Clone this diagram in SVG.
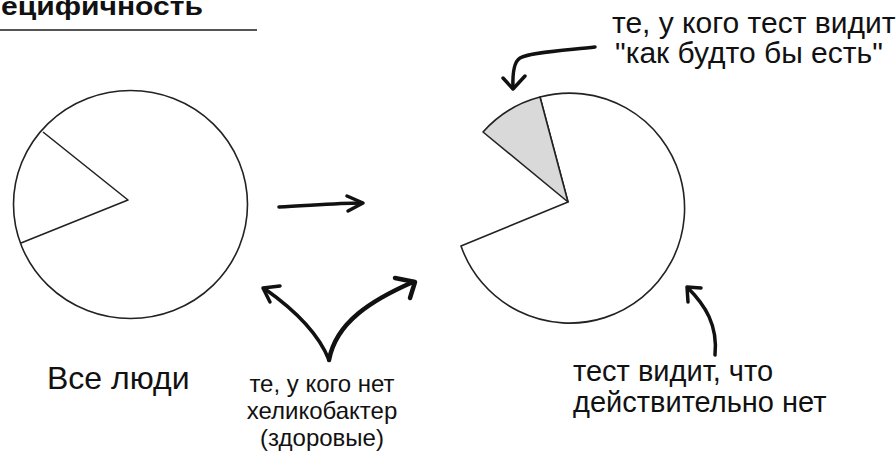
<svg xmlns="http://www.w3.org/2000/svg" width="896" height="455" viewBox="0 0 896 455">
<style>
.pie{fill:#fff;stroke:#222;stroke-width:1.6;stroke-linejoin:round}
.lbl{font-family:"Liberation Sans",Arial,sans-serif;fill:#111}
.arr{fill:none;stroke:#111;stroke-width:3.5;stroke-linecap:round;stroke-linejoin:round}
</style>
<rect width="896" height="455" fill="#fff"/>
<g id="title">
<text x="1" y="15" textLength="202" lengthAdjust="spacingAndGlyphs" style="font-family:'Liberation Sans',Arial,sans-serif;font-size:26px;font-weight:bold;fill:#111">ецифичность</text>
<line x1="0" y1="30" x2="257" y2="30" stroke="#555" stroke-width="2"/>
</g>
<g id="all-people">
<ellipse class="pie" cx="130.5" cy="204.5" rx="117" ry="114"/>
<polyline class="pie" points="43,132 128,200 21,243" style="fill:none"/>
<text class="lbl" x="47" y="389" font-size="32">Все люди</text>
</g>
<g id="test-pie">
<path class="pie" d="M461,246 L568,202 L540,97 A115,115 0 1 1 461,246 Z"/>
<path class="pie" style="fill:#d9d9d9" d="M568,202 L483,132 A115,115 0 0 1 540,97 Z"/>
</g>
<g id="label-false-positive" font-size="30">
<text class="lbl" x="612" y="33">те, у кого тест видит</text>
<text class="lbl" x="615" y="63">"как будто бы есть"</text>
</g>
<g id="label-healthy" font-size="24">
<text class="lbl" x="322" y="392" text-anchor="middle">те, у кого нет</text>
<text class="lbl" x="322" y="419" text-anchor="middle">хеликобактер</text>
<text class="lbl" x="322" y="446" text-anchor="middle">(здоровые)</text>
</g>
<g id="label-true-negative" font-size="29">
<text class="lbl" x="573" y="381">тест видит, что</text>
<text class="lbl" x="573" y="412">действительно нет</text>
</g>
<g id="connectors">
<path class="arr" d="M279,207 C 305,206 335,203 362,203"/>
<path class="arr" d="M347,196 L363,203 L348,211"/>
<path class="arr" d="M329,360 C 318,332 292,308 265,289"/>
<path class="arr" d="M280,286 L263,288 L270,302"/>
<path class="arr" style="stroke-width:4.5" d="M329,360 C 336,322 372,300 413,282"/>
<path class="arr" style="stroke-width:4.5" d="M395,278 L415,282 L410,298"/>
<path class="arr" d="M595,47 C 570,50 530,52 520,58 Q 512,63 513,88"/>
<path class="arr" d="M503,78 L513,89 L525,76"/>
<path class="arr" d="M715,355 C 718,325 705,305 688,288"/>
<path class="arr" d="M688,302 L687,287 L701,288"/>
</g>
</svg>
